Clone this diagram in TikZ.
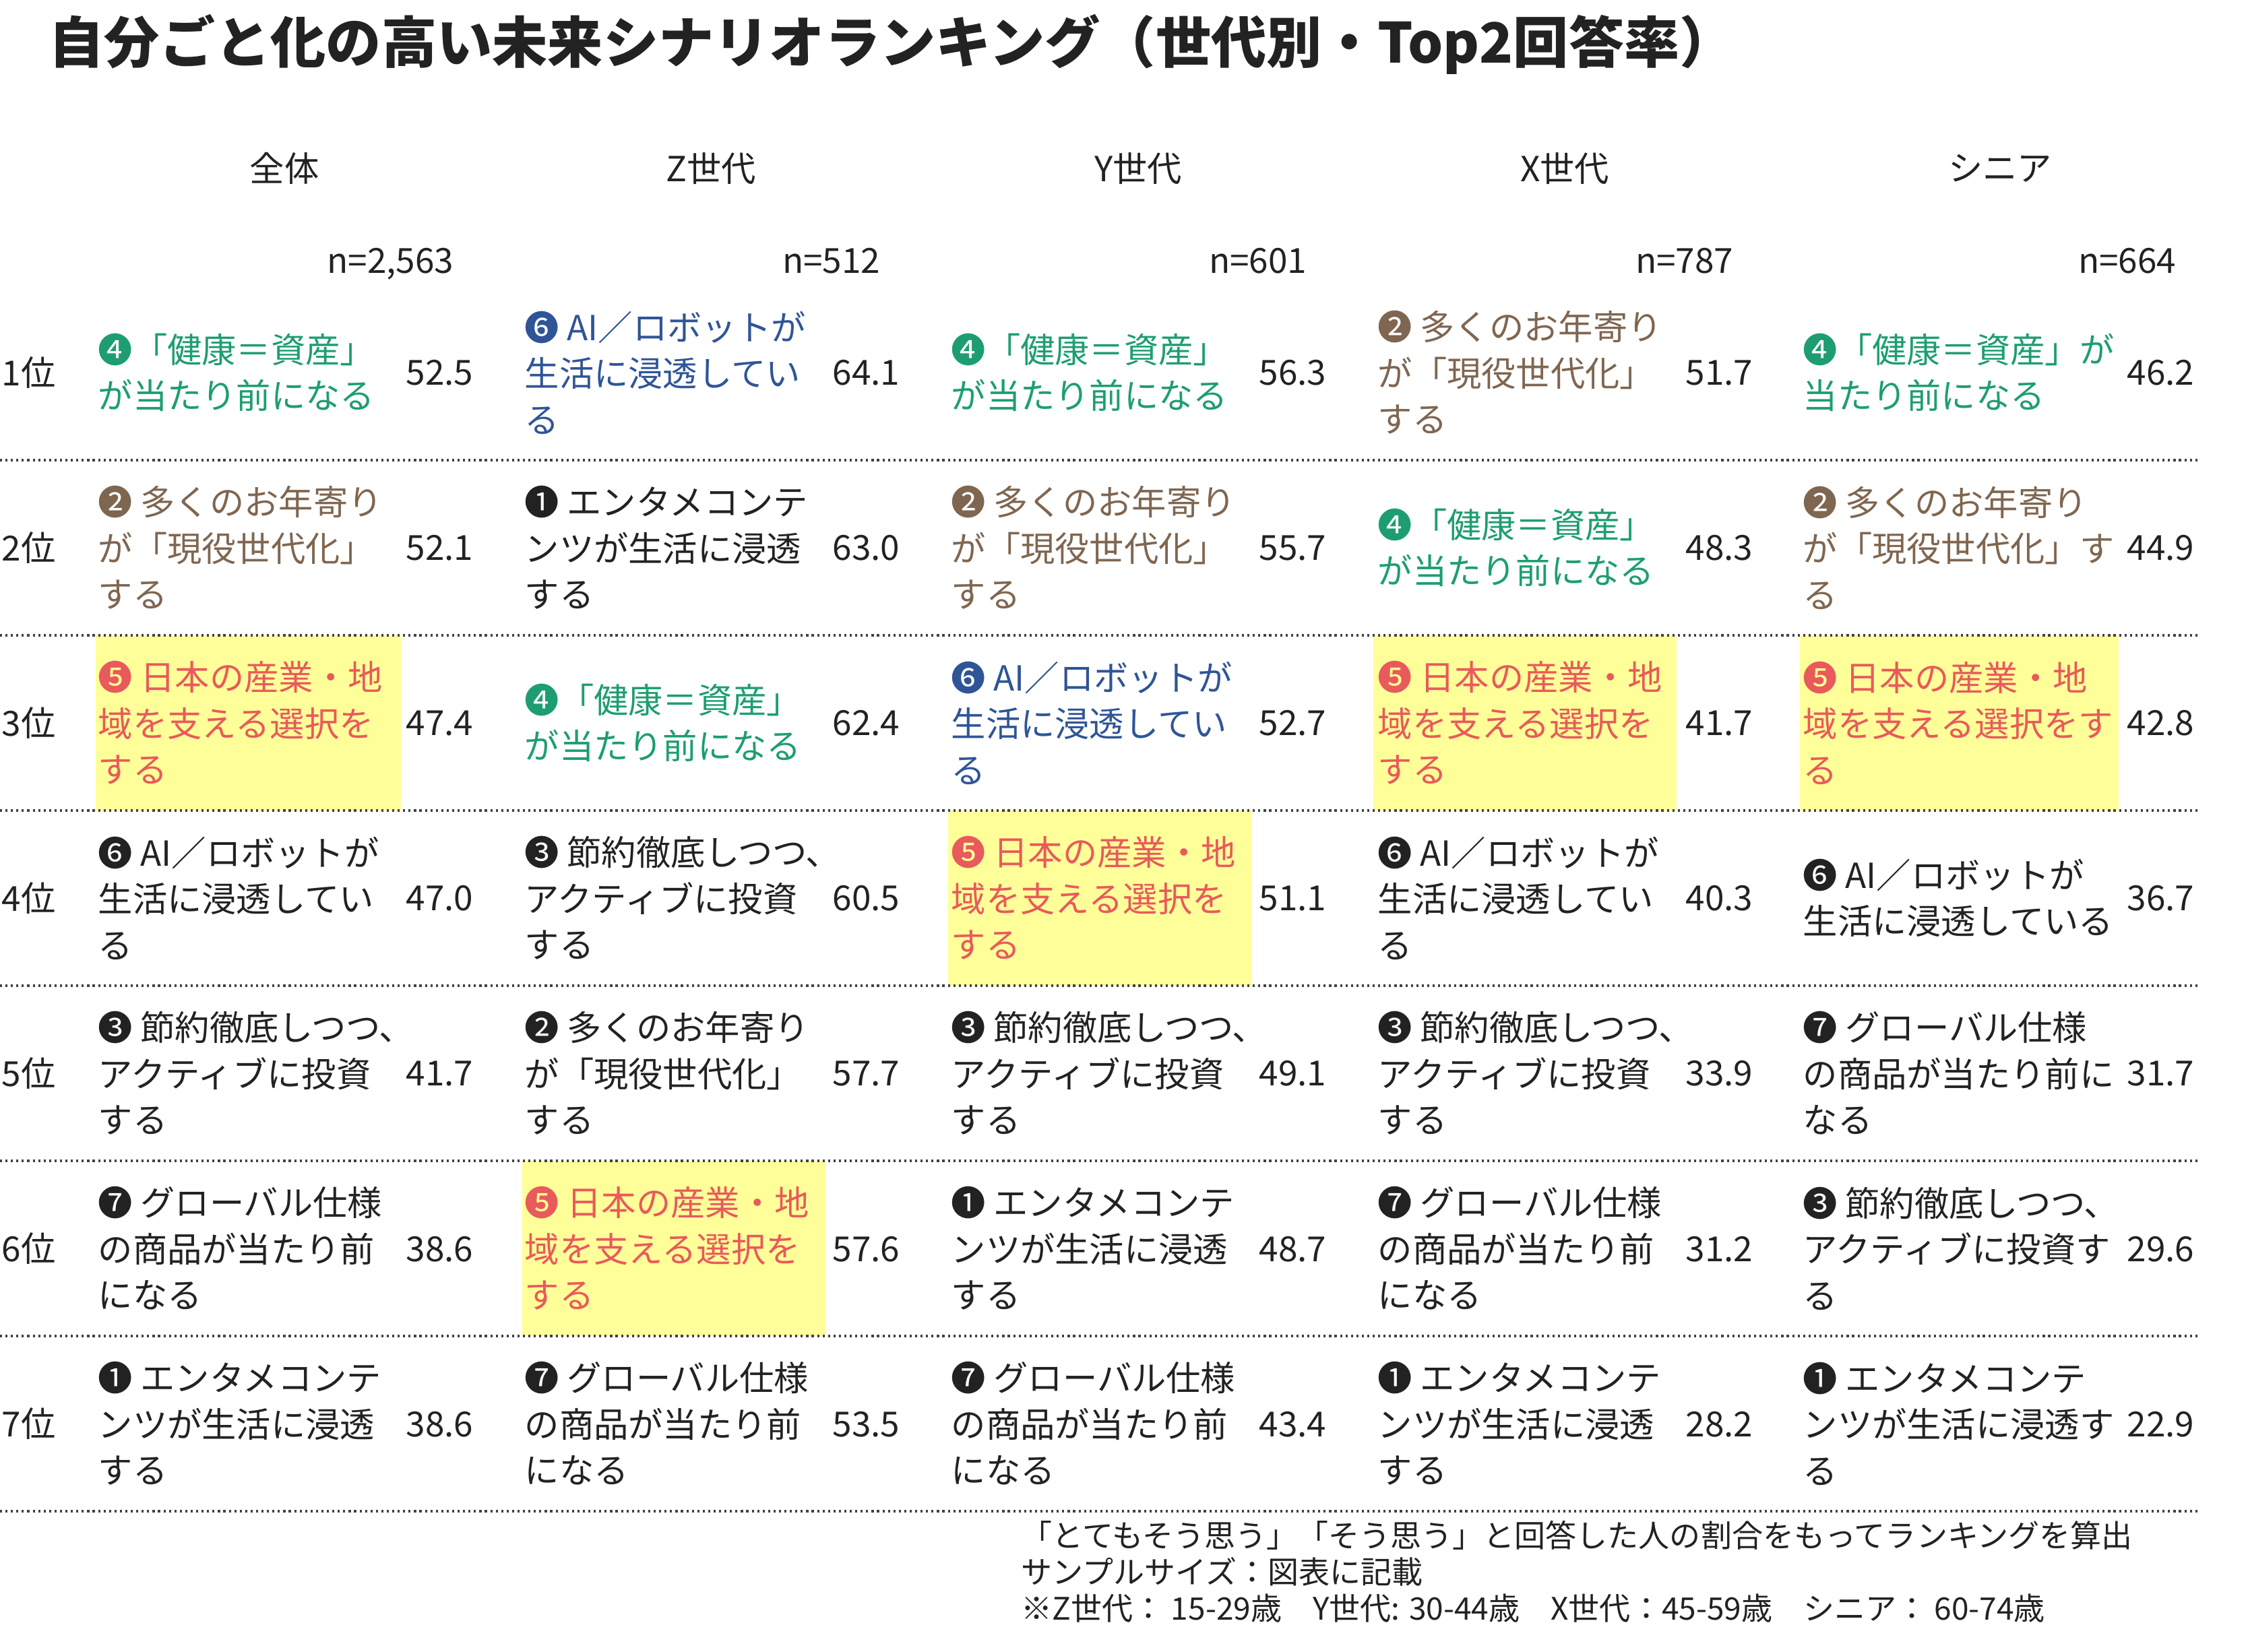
\documentclass[tikz,border=0pt]{standalone}
\usepackage{fontspec}
\setmainfont{Noto Sans CJK JP}
\usepackage{tikz}

\definecolor{kgreen}{HTML}{1E9E70}
\definecolor{kblue}{HTML}{2F5597}
\definecolor{kbrown}{HTML}{7F6650}
\definecolor{kred}{HTML}{E85A5B}
\definecolor{kyellow}{HTML}{FFFF99}
\definecolor{kink}{HTML}{222222}

\begin{document}
\begin{tikzpicture}[
  every node/.style={inner sep=0pt, text=kink, font=\fontsize{14.6pt}{19.5pt}\selectfont},
  item/.style={anchor=west, align=left},
  num/.style={anchor=base east, yshift=-0.19cm},
  rule/.style={black!75, line width=0.9pt, dash pattern=on 0.9pt off 1.4pt}
]
\useasboundingbox (0,0) rectangle (33.36,-24.52);

% yellow cells
\fill[kyellow] (1.42,-9.43) rectangle (5.95,-12.03);
\fill[kyellow] (20.38,-9.43) rectangle (24.88,-12.03);
\fill[kyellow] (26.71,-9.43) rectangle (31.44,-12.03);
\fill[kyellow] (14.07,-12.03) rectangle (18.57,-14.63);
\fill[kyellow] (7.75,-17.23) rectangle (12.25,-19.83);

\foreach \y in {6.83,9.43,12.03,14.63,17.23,19.83,22.43}
  \draw[rule] (0,-\y) -- (32.62,-\y);

\node[anchor=west, font=\fontsize{23.4pt}{28pt}\bfseries\selectfont] (title) at (0.72,-0.66)
  {自分ごと化の高い未来シナリオランキング（世代別・Top2回答率）};

% headers
\node (h1) at (4.22,-2.50) {全体};
\node (h2) at (10.55,-2.50) {Z世代};
\node (h3) at (16.89,-2.50) {Y世代};
\node (h4) at (23.22,-2.50) {X世代};
\node (h5) at (29.68,-2.50) {シニア};
\node[num] (n1) at (6.74,-3.87) {n=2,563};
\node[num] (n2) at (13.07,-3.87) {n=512};
\node[num] (n3) at (19.40,-3.87) {n=601};
\node[num] (n4) at (25.73,-3.87) {n=787};
\node[num] (n5) at (32.30,-3.87) {n=664};

% ranks
\node[item] (r1) at (0.02,-5.53) {1位};
\node[item] (r2) at (0.02,-8.13) {2位};
\node[item] (r3) at (0.02,-10.73) {3位};
\node[item] (r4) at (0.02,-13.33) {4位};
\node[item] (r5) at (0.02,-15.93) {5位};
\node[item] (r6) at (0.02,-18.53) {6位};
\node[item] (r7) at (0.02,-21.13) {7位};

% 1位
\node[item, text=kgreen] (c11) at (1.45,-5.53) {❹「健康＝資産」\\が当たり前になる};
\node[num] (v11) at (7.03,-5.53) {52.5};
\node[item, text=kblue] (c12) at (7.78,-5.53) {❻ AI／ロボットが\\生活に浸透してい\\る};
\node[num] (v12) at (13.36,-5.53) {64.1};
\node[item, text=kgreen] (c13) at (14.11,-5.53) {❹「健康＝資産」\\が当たり前になる};
\node[num] (v13) at (19.69,-5.53) {56.3};
\node[item, text=kbrown] (c14) at (20.44,-5.53) {❷ 多くのお年寄り\\が「現役世代化」\\する};
\node[num] (v14) at (26.02,-5.53) {51.7};
\node[item, text=kgreen] (c15) at (26.75,-5.53) {❹「健康＝資産」が\\当たり前になる};
\node[num] (v15) at (32.57,-5.53) {46.2};

% 2位
\node[item, text=kbrown] (c21) at (1.45,-8.13) {❷ 多くのお年寄り\\が「現役世代化」\\する};
\node[num] (v21) at (7.03,-8.13) {52.1};
\node[item] (c22) at (7.78,-8.13) {❶ エンタメコンテ\\ンツが生活に浸透\\する};
\node[num] (v22) at (13.36,-8.13) {63.0};
\node[item, text=kbrown] (c23) at (14.11,-8.13) {❷ 多くのお年寄り\\が「現役世代化」\\する};
\node[num] (v23) at (19.69,-8.13) {55.7};
\node[item, text=kgreen] (c24) at (20.44,-8.13) {❹「健康＝資産」\\が当たり前になる};
\node[num] (v24) at (26.02,-8.13) {48.3};
\node[item, text=kbrown] (c25) at (26.75,-8.13) {❷ 多くのお年寄り\\が「現役世代化」す\\る};
\node[num] (v25) at (32.57,-8.13) {44.9};

% 3位
\node[item, text=kred] (c31) at (1.45,-10.73) {❺ 日本の産業・地\\域を支える選択を\\する};
\node[num] (v31) at (7.03,-10.73) {47.4};
\node[item, text=kgreen] (c32) at (7.78,-10.73) {❹「健康＝資産」\\が当たり前になる};
\node[num] (v32) at (13.36,-10.73) {62.4};
\node[item, text=kblue] (c33) at (14.11,-10.73) {❻ AI／ロボットが\\生活に浸透してい\\る};
\node[num] (v33) at (19.69,-10.73) {52.7};
\node[item, text=kred] (c34) at (20.44,-10.73) {❺ 日本の産業・地\\域を支える選択を\\する};
\node[num] (v34) at (26.02,-10.73) {41.7};
\node[item, text=kred] (c35) at (26.75,-10.73) {❺ 日本の産業・地\\域を支える選択をす\\る};
\node[num] (v35) at (32.57,-10.73) {42.8};

% 4位
\node[item] (c41) at (1.45,-13.33) {❻ AI／ロボットが\\生活に浸透してい\\る};
\node[num] (v41) at (7.03,-13.33) {47.0};
\node[item] (c42) at (7.78,-13.33) {❸ 節約徹底しつつ、\\アクティブに投資\\する};
\node[num] (v42) at (13.36,-13.33) {60.5};
\node[item, text=kred] (c43) at (14.11,-13.33) {❺ 日本の産業・地\\域を支える選択を\\する};
\node[num] (v43) at (19.69,-13.33) {51.1};
\node[item] (c44) at (20.44,-13.33) {❻ AI／ロボットが\\生活に浸透してい\\る};
\node[num] (v44) at (26.02,-13.33) {40.3};
\node[item] (c45) at (26.75,-13.33) {❻ AI／ロボットが\\生活に浸透している};
\node[num] (v45) at (32.57,-13.33) {36.7};

% 5位
\node[item] (c51) at (1.45,-15.93) {❸ 節約徹底しつつ、\\アクティブに投資\\する};
\node[num] (v51) at (7.03,-15.93) {41.7};
\node[item] (c52) at (7.78,-15.93) {❷ 多くのお年寄り\\が「現役世代化」\\する};
\node[num] (v52) at (13.36,-15.93) {57.7};
\node[item] (c53) at (14.11,-15.93) {❸ 節約徹底しつつ、\\アクティブに投資\\する};
\node[num] (v53) at (19.69,-15.93) {49.1};
\node[item] (c54) at (20.44,-15.93) {❸ 節約徹底しつつ、\\アクティブに投資\\する};
\node[num] (v54) at (26.02,-15.93) {33.9};
\node[item] (c55) at (26.75,-15.93) {❼ グローバル仕様\\の商品が当たり前に\\なる};
\node[num] (v55) at (32.57,-15.93) {31.7};

% 6位
\node[item] (c61) at (1.45,-18.53) {❼ グローバル仕様\\の商品が当たり前\\になる};
\node[num] (v61) at (7.03,-18.53) {38.6};
\node[item, text=kred] (c62) at (7.78,-18.53) {❺ 日本の産業・地\\域を支える選択を\\する};
\node[num] (v62) at (13.36,-18.53) {57.6};
\node[item] (c63) at (14.11,-18.53) {❶ エンタメコンテ\\ンツが生活に浸透\\する};
\node[num] (v63) at (19.69,-18.53) {48.7};
\node[item] (c64) at (20.44,-18.53) {❼ グローバル仕様\\の商品が当たり前\\になる};
\node[num] (v64) at (26.02,-18.53) {31.2};
\node[item] (c65) at (26.75,-18.53) {❸ 節約徹底しつつ、\\アクティブに投資す\\る};
\node[num] (v65) at (32.57,-18.53) {29.6};

% 7位
\node[item] (c71) at (1.45,-21.13) {❶ エンタメコンテ\\ンツが生活に浸透\\する};
\node[num] (v71) at (7.03,-21.13) {38.6};
\node[item] (c72) at (7.78,-21.13) {❼ グローバル仕様\\の商品が当たり前\\になる};
\node[num] (v72) at (13.36,-21.13) {53.5};
\node[item] (c73) at (14.11,-21.13) {❼ グローバル仕様\\の商品が当たり前\\になる};
\node[num] (v73) at (19.69,-21.13) {43.4};
\node[item] (c74) at (20.44,-21.13) {❶ エンタメコンテ\\ンツが生活に浸透\\する};
\node[num] (v74) at (26.02,-21.13) {28.2};
\node[item] (c75) at (26.75,-21.13) {❶ エンタメコンテ\\ンツが生活に浸透す\\る};
\node[num] (v75) at (32.57,-21.13) {22.9};

% note
\node[item, font=\fontsize{13.1pt}{15.4pt}\selectfont] (note) at (15.15,-23.33)
  {「とてもそう思う」「そう思う」と回答した人の割合をもってランキングを算出\\
   サンプルサイズ：図表に記載\\
   ※Z世代： 15-29歳　Y世代: 30-44歳　X世代：45-59歳　シニア： 60-74歳};
\end{tikzpicture}
\end{document}
